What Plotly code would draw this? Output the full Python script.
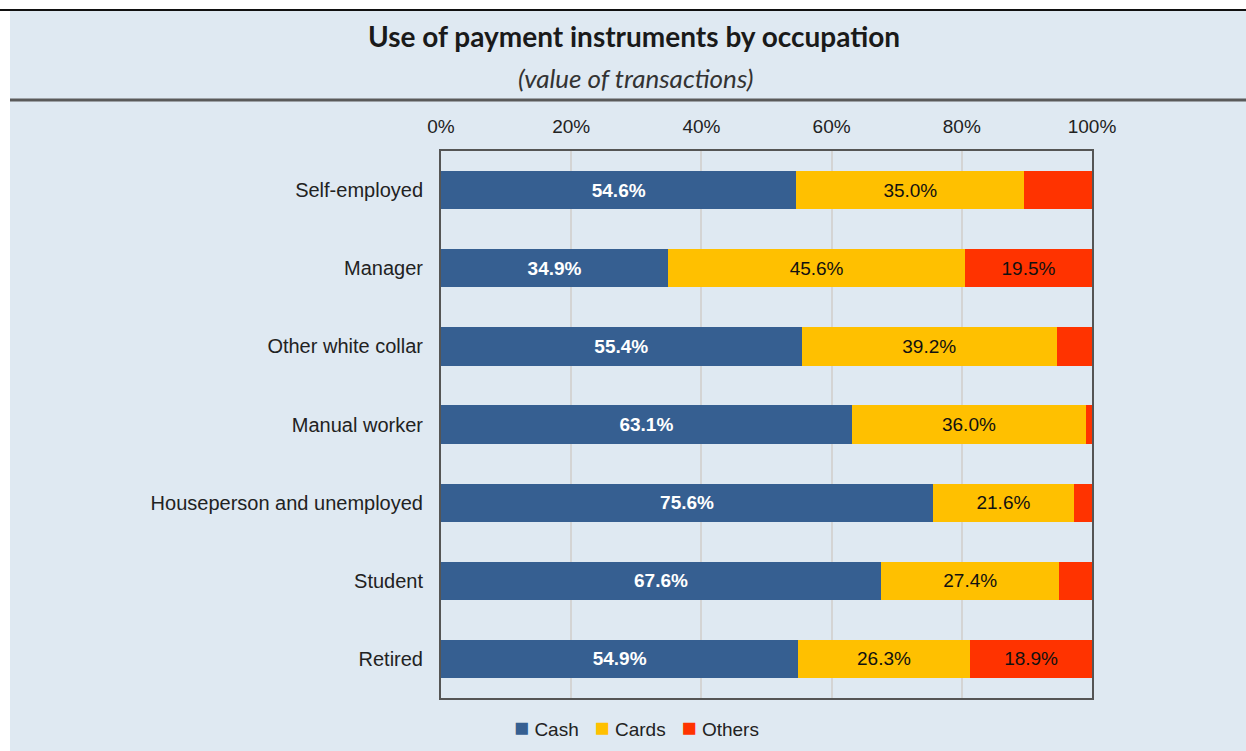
import plotly.graph_objects as go

# data
occupations = ["Self-employed", "Manager", "Other white collar", "Manual worker",
               "Houseperson and unemployed", "Student", "Retired"]
cash = [54.6, 34.9, 55.4, 63.1, 75.6, 67.6, 54.9]
cards = [35.0, 45.6, 39.2, 36.0, 21.6, 27.4, 26.3]
others = [10.4, 19.5, 5.4, 0.9, 2.8, 5.0, 18.9]
others_labels = ["", "19.5%", "", "", "", "", "18.9%"]
x_ticks = [0, 20, 40, 60, 80, 100]
x_ticktext = [f"{t}%" for t in x_ticks]

W, H = 1246, 751
L, R, T, B = 441, 1092, 151, 698
BG = "#dfe9f2"
COLORS = {"Cash": "#365f91", "Cards": "#ffc000", "Others": "#ff3300"}
FONT = "Liberation Sans, Arial"


def px(x):
    return (x - L) / (R - L)


def py(y):
    return (B - y) / (B - T)


fig = go.Figure()

fig.add_trace(go.Bar(
    y=occupations, x=cash, name="Cash", orientation="h",
    marker=dict(color=COLORS["Cash"], line=dict(width=0)),
    text=[f"{v:.1f}%" for v in cash], textposition="inside",
    insidetextanchor="middle", textangle=0,
    textfont=dict(color="white", size=19, family=FONT, weight="bold"),
))
fig.add_trace(go.Bar(
    y=occupations, x=cards, name="Cards", orientation="h",
    marker=dict(color=COLORS["Cards"], line=dict(width=0)),
    text=[f"{v:.1f}%" for v in cards], textposition="inside",
    insidetextanchor="middle", textangle=0,
    textfont=dict(color="#111111", size=19, family=FONT),
))
fig.add_trace(go.Bar(
    y=occupations, x=others, name="Others", orientation="h",
    marker=dict(color=COLORS["Others"], line=dict(width=0)),
    text=others_labels, textposition="inside",
    insidetextanchor="middle", textangle=0,
    textfont=dict(color="#111111", size=19, family=FONT),
))

shapes = [
    # light blue panel
    dict(type="rect", xref="paper", yref="paper", layer="below",
         x0=px(10), x1=px(W + 5), y0=py(H + 5), y1=py(10),
         fillcolor=BG, line=dict(width=0)),
    # top black rule
    dict(type="line", xref="paper", yref="paper",
         x0=px(0), x1=px(W), y0=py(10), y1=py(10),
         line=dict(color="#111111", width=2)),
    # rule under the titles
    dict(type="line", xref="paper", yref="paper",
         x0=px(10), x1=px(W), y0=py(100), y1=py(100),
         line=dict(color="#5a5a5a", width=3)),
]

# legend drawn as text so the squares sit tight against the names
legend_text = "   ".join(
    f'<span style="color:{c};font-size:25px">■</span> {n}' for n, c in COLORS.items()
)

annotations = [
    dict(text="<b>Use of payment instruments by occupation</b>", xref="paper", yref="paper",
         x=px(634), y=py(36), showarrow=False, xanchor="center", yanchor="middle",
         font=dict(family="Lato", size=28, color="#1a1a1a")),
    dict(text="<i>(value of transactions)</i>", xref="paper", yref="paper",
         x=px(636), y=py(78), showarrow=False, xanchor="center", yanchor="middle",
         font=dict(family="Lato", size=26, color="#333333")),
    dict(text=legend_text, xref="paper", yref="paper",
         x=px(636), y=py(727), showarrow=False, xanchor="center", yanchor="middle",
         font=dict(family=FONT, size=19, color="#222222")),
]

fig.update_layout(
    width=W, height=H,
    barmode="stack",
    bargap=0.51,
    showlegend=False,
    paper_bgcolor="white",
    plot_bgcolor="white",
    margin=dict(l=L, r=W - R, t=T, b=H - B, pad=0),
    font=dict(family=FONT, size=19, color="#222222"),
    shapes=shapes,
    annotations=annotations,
)

fig.update_xaxes(
    range=[0, 100], side="top", tickvals=x_ticks, ticktext=x_ticktext,
    showgrid=True, gridcolor="#d4d4d4", gridwidth=1.5,
    showline=True, linecolor="#555555", linewidth=2, mirror=True,
    ticks="", ticklabelstandoff=8, zeroline=False, fixedrange=True,
)
fig.update_yaxes(
    autorange="reversed", showgrid=False, tickfont=dict(size=20),
    showline=True, linecolor="#555555", linewidth=2, mirror=True,
    ticks="", ticklabelstandoff=12, fixedrange=True,
)

fig.write_html("out.html", config={"displayModeBar": False},
               post_script="document.body.style.margin='0';")
